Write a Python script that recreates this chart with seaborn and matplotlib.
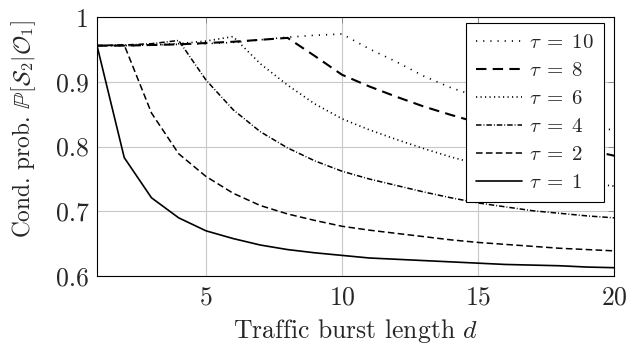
import numpy as np
import pandas as pd
import matplotlib
matplotlib.use("Agg")
import matplotlib.pyplot as plt
import seaborn as sns

# ---- data ----
d = list(range(1, 21))
tau_labels = [r"$\tau\;=\;10$", r"$\tau\;=\;8$", r"$\tau\;=\;6$", r"$\tau\;=\;4$", r"$\tau\;=\;2$", r"$\tau\;=\;1$"]
p_tau10 = [0.956, 0.956, 0.957, 0.958, 0.959, 0.961, 0.965, 0.969, 0.972, 0.974,
           0.951, 0.931, 0.909, 0.891, 0.877, 0.864, 0.853, 0.843, 0.834, 0.825]
p_tau8 = [0.956, 0.956, 0.957, 0.958, 0.960, 0.962, 0.965, 0.968, 0.940, 0.911,
          0.893, 0.877, 0.862, 0.849, 0.837, 0.825, 0.814, 0.804, 0.795, 0.786]
p_tau6 = [0.956, 0.956, 0.957, 0.959, 0.963, 0.970, 0.928, 0.895, 0.866, 0.843,
          0.826, 0.811, 0.797, 0.784, 0.773, 0.764, 0.756, 0.749, 0.744, 0.739]
p_tau4 = [0.956, 0.957, 0.959, 0.964, 0.903, 0.857, 0.823, 0.798, 0.778, 0.762,
          0.750, 0.740, 0.730, 0.721, 0.713, 0.707, 0.701, 0.697, 0.693, 0.690]
p_tau2 = [0.956, 0.957, 0.852, 0.789, 0.754, 0.728, 0.709, 0.696, 0.686, 0.677,
          0.671, 0.666, 0.661, 0.656, 0.652, 0.649, 0.646, 0.643, 0.641, 0.639]
p_tau1 = [0.956, 0.783, 0.721, 0.690, 0.670, 0.658, 0.648, 0.641, 0.636, 0.632,
          0.628, 0.626, 0.624, 0.622, 0.620, 0.618, 0.617, 0.616, 0.614, 0.613]
series = [p_tau10, p_tau8, p_tau6, p_tau4, p_tau2, p_tau1]
xticks = [5, 10, 15, 20]
yticks = [0.6, 0.7, 0.8, 0.9, 1.0]
yticklabels = ["0.6", "0.7", "0.8", "0.9", "1"]

# ---- style ----
sns.set_style("white")
plt.rcParams["font.family"] = ["cmr10", "DejaVu Serif"]
plt.rcParams["mathtext.fontset"] = "cm"
plt.rcParams["axes.formatter.use_mathtext"] = True
FS = 18.5
YFS = 16.8
LFS = 15

styles = [
    dict(linestyle=(0, (0.7, 3.6)), lw=1.2),
    dict(linestyle=(0, (5.0, 3.0)), lw=1.5),
    dict(linestyle=(0, (0.7, 2.0)), lw=1.2),
    dict(linestyle=(0, (3.6, 1.3, 0.6, 1.3)), lw=1.1),
    dict(linestyle=(0, (4.3, 2.2)), lw=1.1),
    dict(linestyle="-", lw=1.2),
]

fig = plt.figure(figsize=(6.3, 3.43), dpi=100)
ax = fig.add_axes([0.154, 0.195, 0.821, 0.755])

frames = []
for lab, vals in zip(tau_labels, series):
    frames.append(pd.DataFrame({"d": d, "p": vals, "tau": lab}))
df = pd.concat(frames, ignore_index=True)

for lab, st in zip(tau_labels, styles):
    sub = df[df["tau"] == lab]
    sns.lineplot(data=sub, x="d", y="p", ax=ax, color="black", label=lab,
                 linestyle=st["linestyle"], linewidth=st["lw"])

ax.set_xlim(1, 20)
ax.set_ylim(0.6, 1.0)
ax.set_xticks(xticks)
ax.set_yticks(yticks)
ax.set_yticklabels(yticklabels)
ax.grid(True, color="#c8c8c8", linewidth=0.8)
ax.set_axisbelow(True)
for s in ax.spines.values():
    s.set_color("black")
    s.set_linewidth(0.8)
ax.tick_params(axis="both", direction="in", length=4, width=0.6, color="#808080",
               labelsize=FS, top=True, right=True)
ax.tick_params(axis="x", pad=7)
ax.tick_params(axis="y", pad=6)
ax.set_xlabel(r"Traffic burst length $d$", fontsize=FS, labelpad=5)
ax.set_ylabel(r"Cond. prob. $\mathbb{P}[\mathcal{S}_2|\mathcal{O}_1]$", fontsize=YFS)
ax.yaxis.set_label_coords(-0.115, 0.568)

leg = ax.legend(loc="upper right", bbox_to_anchor=(0.981, 0.977), borderaxespad=0,
                fontsize=LFS, frameon=True, fancybox=False, edgecolor="black",
                framealpha=1, handlelength=2.2, handletextpad=0.35,
                labelspacing=0.45, borderpad=0.5)
leg.get_frame().set_linewidth(0.8)

fig.savefig("out.png", dpi=100)
